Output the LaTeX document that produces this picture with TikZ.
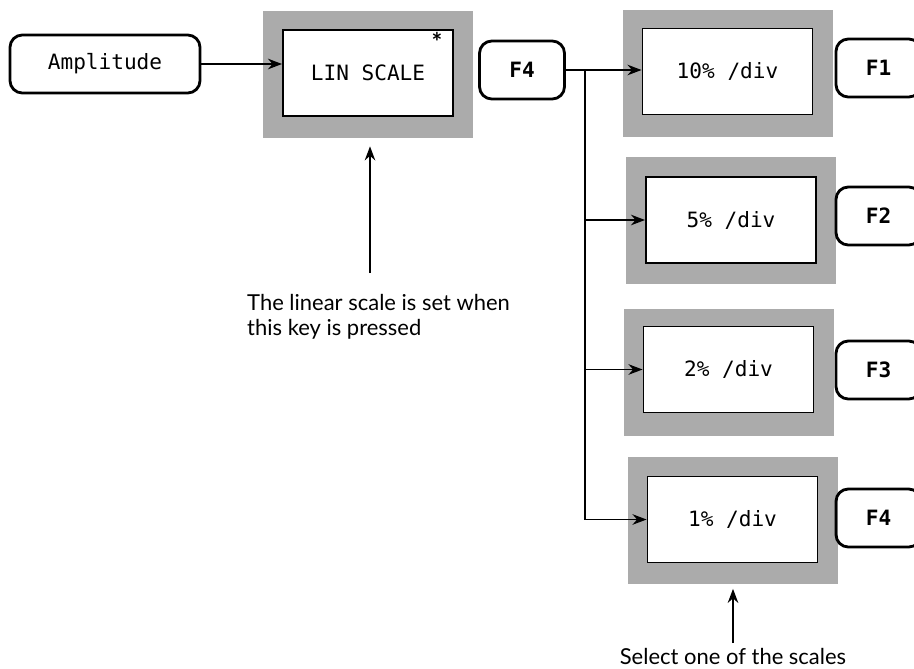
\documentclass[tikz,border=0pt]{standalone}
\usepackage{fontspec}
\setmainfont{Lato}
\setmonofont{DejaVu Sans Mono}
\usetikzlibrary{arrows.meta,positioning}

\begin{document}
\begin{tikzpicture}[>={Stealth[length=8pt,width=6pt]},font=\fontsize{12.5}{14.5}\selectfont,
  key/.style={draw,line width=1.6pt,rounded corners=7pt,minimum height=1.16cm,font=\ttfamily\fontsize{12}{14}\selectfont},
  fkey/.style={key,minimum width=1.7cm,font=\ttfamily\bfseries\fontsize{12}{14}\selectfont},
  screen/.style={fill=black!33,minimum width=4.2cm,minimum height=2.54cm},
  menu/.style={draw,line width=1.1pt,fill=white,minimum width=3.4cm,minimum height=1.72cm,font=\ttfamily\fontsize{12}{14}\selectfont},
  link/.style={->,line width=0.9pt}]
\clip (0,0) rectangle (18.28,-13.36);
\node[key,minimum width=3.8cm] (amp) at (2.1,-1.28) {Amplitude};
\node[screen] (linsh) at (7.36,-1.49) {};
\node[menu]   (lin)   at (7.36,-1.46) {LIN SCALE};
\node[font=\bfseries\Large] (ast) at (8.74,-0.84) {*};
\node[fkey] (fkey) at (10.44,-1.4) {F4};
% scale menu
\node[screen] (sh10) at (14.55,-1.47) {};
\node[menu]   (m10)  at (14.55,-1.43) {10\% /div};
\node[screen] (sh5)  at (14.62,-4.4)  {};
\node[menu]   (m5)   at (14.62,-4.4)  {5\% /div};
\node[screen] (sh2)  at (14.58,-7.45) {};
\node[menu]   (m2)   at (14.57,-7.39) {2\% /div};
\node[screen] (sh1)  at (14.66,-10.4) {};
\node[menu]   (m1)   at (14.65,-10.39) {1\% /div};
\node[fkey] (f1) at (17.57,-1.36)  {F1};
\node[fkey] (f2) at (17.57,-4.32)  {F2};
\node[fkey] (f3) at (17.57,-7.4)   {F3};
\node[fkey] (f4) at (17.57,-10.36) {F4};
% connectors
\draw[link] (amp.east) -- (amp.east -| lin.west);
\draw[link] (fkey.east) -- (fkey.east -| m10.west);
\path (fkey.east) ++(0.38,0) coordinate (jn);
\draw[line width=0.9pt] (jn) -- (jn |- m2.west);
\draw[link] (jn |- m5.west) -- (m5.west);
\draw[link] (jn |- m2.west) -- (m2.west);
\draw[link] (jn) |- (m1.west);
% notes
\node[anchor=north west,align=left] (note1) at (4.82,-5.76) {The linear scale is set when\\this key is pressed};
\coordinate (t1) at (7.4,-5.46);
\draw[link,shorten >=0.16cm] (t1) -- (t1 |- linsh.south);
\node[anchor=base] (note2) at (14.66,-13.28) {Select one of the scales};
\coordinate (t2) at (14.66,-12.86);
\draw[link,shorten >=0.1cm] (t2) -- (t2 |- sh1.south);
\end{tikzpicture}
\end{document}
